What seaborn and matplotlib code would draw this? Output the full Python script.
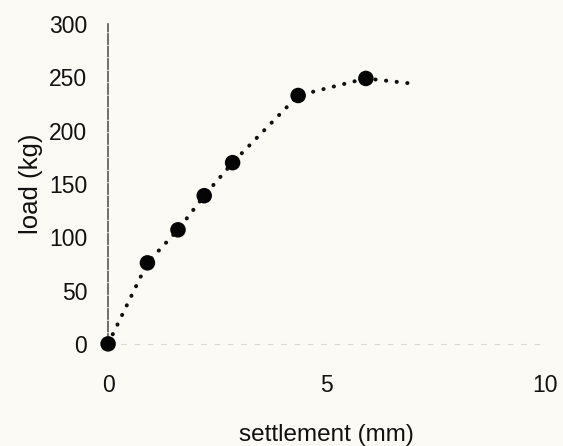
import matplotlib
matplotlib.use("Agg")
import matplotlib.pyplot as plt
import seaborn as sns
import pandas as pd

# data
settlement = [0.0, 0.9, 1.6, 2.2, 2.85, 4.35, 5.9]
load = [0, 76, 107, 139, 170, 233, 249]
# the dotted trend curve runs past the last point
curve_settlement = [0.0, 0.9, 1.6, 2.2, 2.85, 4.35, 5.9, 7.0]
curve_load = [0, 76, 107, 139, 170, 233, 249, 244]
x_ticks = [0, 5, 10]
y_ticks = [0, 50, 100, 150, 200, 250, 300]

pts = pd.DataFrame({"settlement": settlement, "load": load})
curve = pd.DataFrame({"settlement": curve_settlement, "load": curve_load})

sns.set_theme(style="white")
plt.rcParams["font.family"] = ["Liberation Sans", "DejaVu Sans"]

bg = "#fbfaf5"
fig = plt.figure(figsize=(5.63, 4.46), dpi=100, facecolor=bg)
ax = fig.add_axes([0.192, 0.229, 0.776, 0.717], facecolor=bg)

sns.lineplot(data=curve, x="settlement", y="load", ax=ax, color="#111111",
             linewidth=2.9, linestyle=(0, (0.05, 2.6)), dash_capstyle="round",
             solid_capstyle="round", sort=False, estimator=None)
sns.scatterplot(data=pts, x="settlement", y="load", ax=ax, color="#050505",
                s=125, edgecolor="none", zorder=5, clip_on=False)

ax.set_xlim(0, 10)
ax.set_ylim(0, 300)
ax.set_xticks(x_ticks)
ax.set_yticks(y_ticks)
ax.tick_params(axis="both", length=0, labelsize=16.5, colors="#111111")
ax.tick_params(axis="x", pad=22)
ax.tick_params(axis="y", pad=15)

for s in ["top", "right"]:
    ax.spines[s].set_visible(False)
ax.spines["left"].set_color("#555555")
ax.spines["left"].set_linewidth(1.2)
ax.spines["left"].set_linestyle((0, (6, 1.5)))
ax.spines["bottom"].set_color("#d8d8d8")
ax.spines["bottom"].set_linewidth(0.8)
ax.spines["bottom"].set_linestyle((0, (4, 8)))

ax.set_xlabel("settlement (mm)", fontsize=17.5, color="#111111", labelpad=19)
ax.set_ylabel("load (kg)", fontsize=18.5, color="#111111", labelpad=4)

fig.savefig("out.png", dpi=100, facecolor=bg)
